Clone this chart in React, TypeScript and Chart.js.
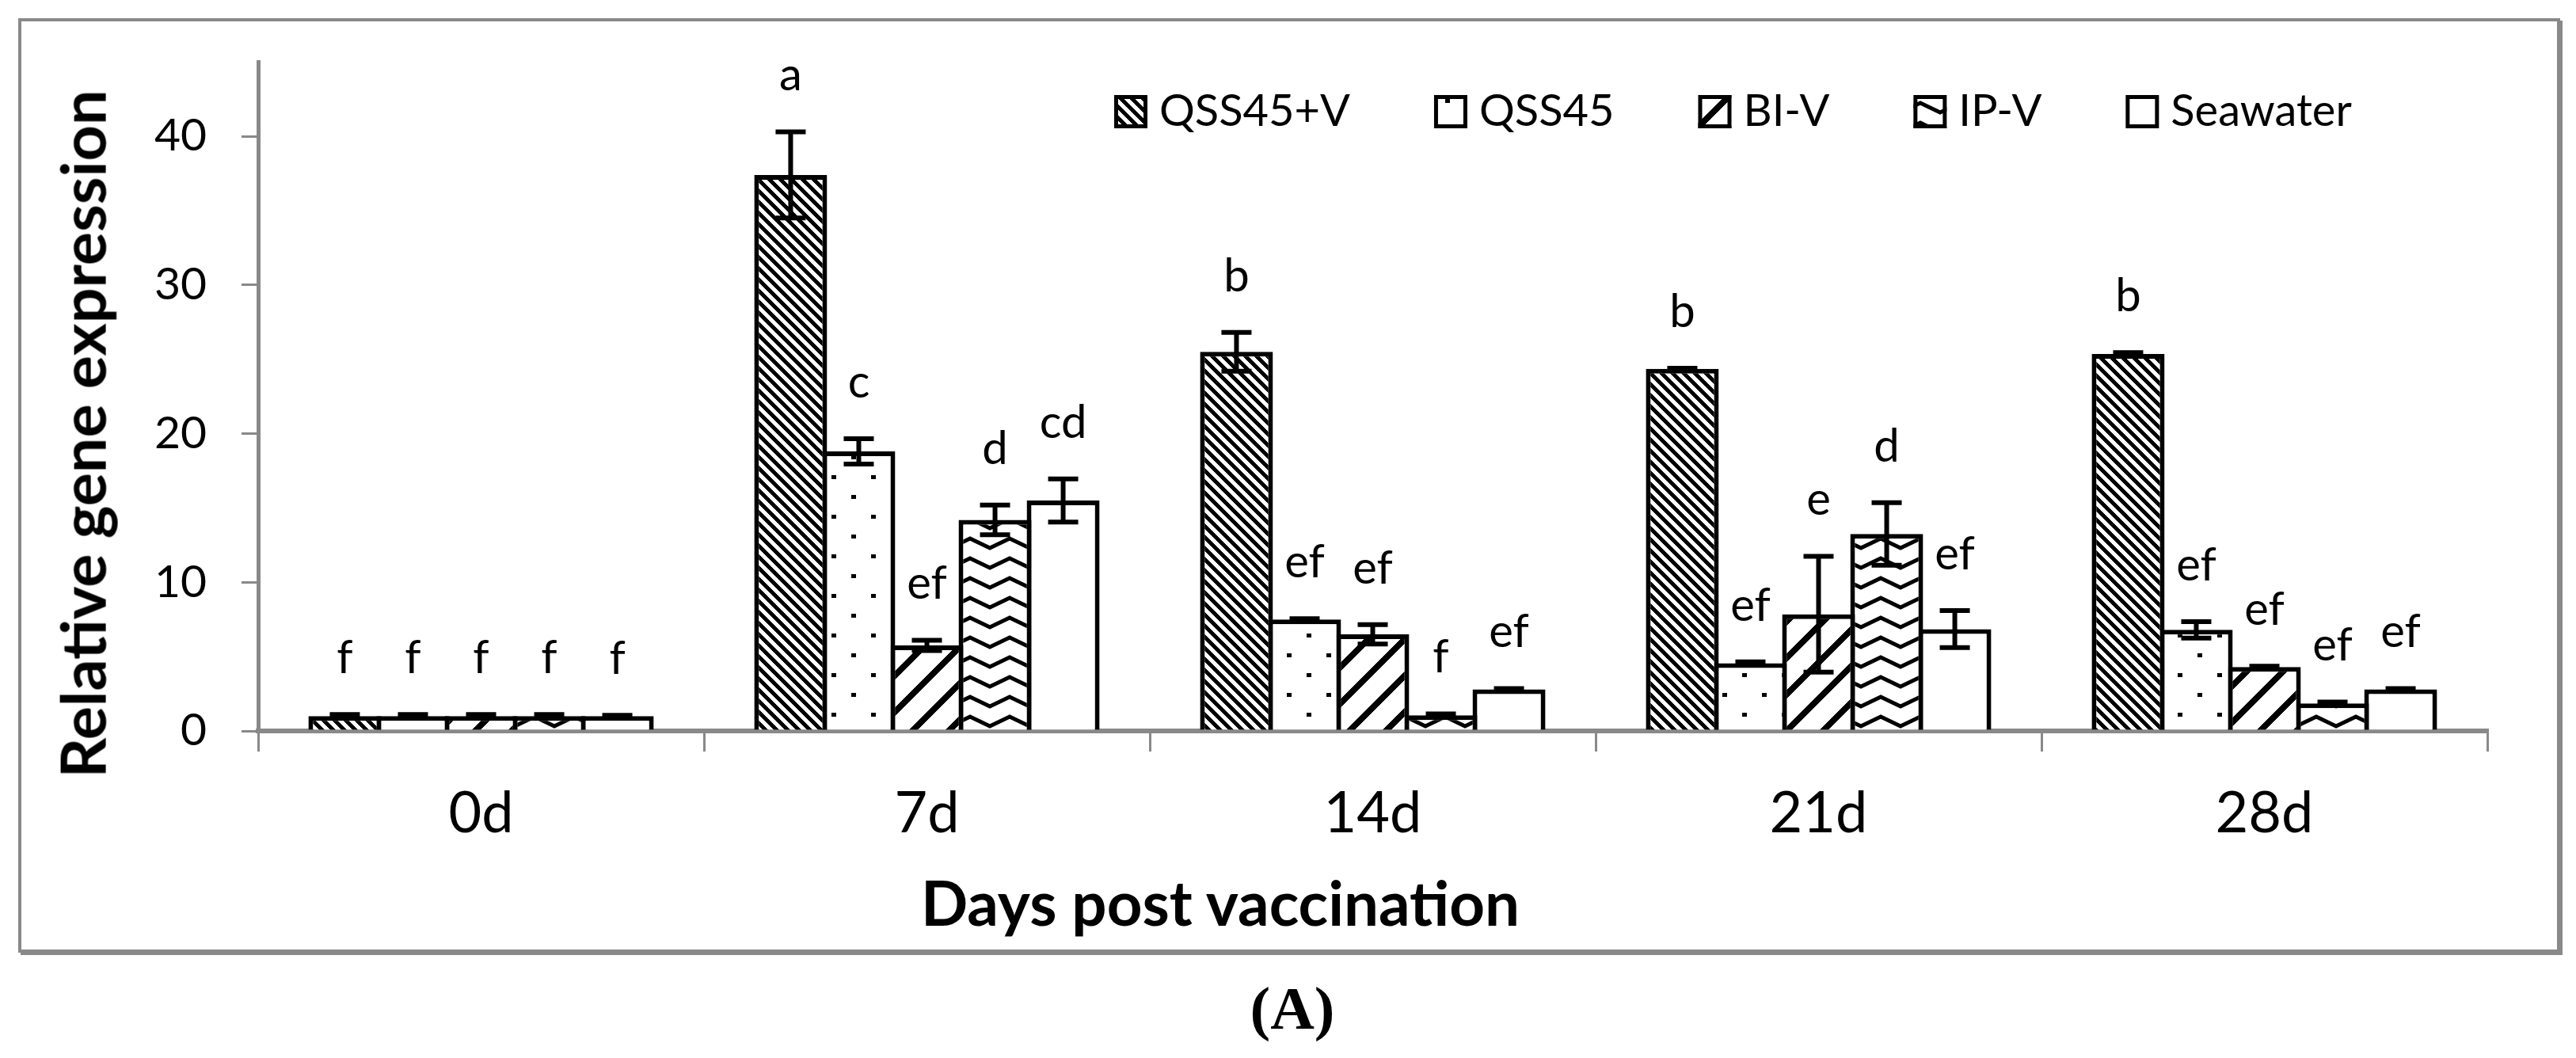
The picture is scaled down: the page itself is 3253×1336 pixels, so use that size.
import React, { useEffect, useRef } from 'react';
import { Chart, registerables } from 'chart.js';

Chart.register(...registerables);

// ---------- data ----------
const days = ['0d', '7d', '14d', '21d', '28d'];
const seriesNames = ['QSS45+V', 'QSS45', 'BI-V', 'IP-V', 'Seawater'];

const qss45vValues = [1.0, 37.4, 25.5, 24.35, 25.35];
const qss45vErrors = [0.1, 2.9, 1.3, 0.05, 0.1];
const qss45vLetters = ['f', 'a', 'b', 'b', 'b'];

const qss45Values = [1.0, 18.8, 7.5, 4.55, 6.8];
const qss45Errors = [0.1, 0.85, 0.05, 0.1, 0.55];
const qss45Letters = ['f', 'c', 'ef', 'ef', 'ef'];

const biVValues = [1.0, 5.75, 6.5, 7.85, 4.3];
const biVErrors = [0.1, 0.35, 0.65, 3.9, 0.05];
const biVLetters = ['f', 'ef', 'ef', 'e', 'ef'];

const ipVValues = [1.0, 14.2, 1.05, 13.25, 1.85];
const ipVErrors = [0.1, 1.0, 0.1, 2.1, 0.1];
const ipVLetters = ['f', 'd', 'f', 'd', 'ef'];

const seawaterValues = [1.0, 15.5, 2.8, 6.85, 2.8];
const seawaterErrors = [0.05, 1.45, 0.05, 1.25, 0.05];
const seawaterLetters = ['f', 'cd', 'ef', 'ef', 'ef'];

const yTickStep = 10;
const yMax = 45;

const allValues = [qss45vValues, qss45Values, biVValues, ipVValues, seawaterValues];
const allErrors = [qss45vErrors, qss45Errors, biVErrors, ipVErrors, seawaterErrors];
const allLetters = [qss45vLetters, qss45Letters, biVLetters, ipVLetters, seawaterLetters];

// ---------- styles ----------
const GRAY = '#898989';
const FONT = 'Lato, "Open Sans", "DejaVu Sans", sans-serif';

function makeTile(w: number, h: number, draw: (g: CanvasRenderingContext2D) => void) {
  const c = document.createElement('canvas');
  c.width = w;
  c.height = h;
  const g = c.getContext('2d')!;
  g.fillStyle = '#fff';
  g.fillRect(0, 0, w, h);
  g.fillStyle = '#000';
  g.strokeStyle = '#000';
  draw(g);
  return c;
}

function buildPatterns(ctx: CanvasRenderingContext2D): (CanvasPattern | string)[] {
  // dense downward diagonal "\"
  const down = makeTile(14, 14, (g) => {
    for (let y = 0; y < 14; y++) {
      for (let k = 0; k < 7; k++) g.fillRect((y + k) % 14, y, 1, 1);
    }
  });
  // sparse dots
  const dots = makeTile(50, 50, (g) => {
    g.fillRect(0, 0, 6, 5);
    g.fillRect(25, 25, 6, 5);
  });
  // wide upward diagonal "/"
  const up = makeTile(46, 46, (g) => {
    for (let y = 0; y < 46; y++) {
      for (let k = 0; k < 11; k++) g.fillRect((45 - y + k) % 46, y, 1, 1);
    }
  });
  // wave / zigzag
  const wave = makeTile(50, 25, (g) => {
    g.lineWidth = 5;
    g.beginPath();
    g.moveTo(-25, 5);
    g.lineTo(0, 17);
    g.lineTo(25, 5);
    g.lineTo(50, 17);
    g.lineTo(75, 5);
    g.stroke();
  });
  return [
    ctx.createPattern(down, 'repeat')!,
    ctx.createPattern(dots, 'repeat')!,
    ctx.createPattern(up, 'repeat')!,
    ctx.createPattern(wave, 'repeat')!,
    '#ffffff',
  ];
}

const errorBarPlugin = {
  id: 'errorBarsAndLetters',
  afterDatasetsDraw(chart: any) {
    const ctx = chart.ctx as CanvasRenderingContext2D;
    const yScale = chart.scales.y;
    ctx.save();
    ctx.strokeStyle = '#000';
    ctx.lineWidth = 6;
    ctx.lineCap = 'butt';
    const capHalf = 19;
    chart.data.datasets.forEach((ds: any, i: number) => {
      const meta = chart.getDatasetMeta(i);
      meta.data.forEach((bar: any, j: number) => {
        const v = allValues[i][j];
        const e = allErrors[i][j];
        const x = bar.x;
        const yTop = yScale.getPixelForValue(v + e);
        const yBot = yScale.getPixelForValue(v - e);
        ctx.beginPath();
        ctx.moveTo(x, yTop);
        ctx.lineTo(x, yBot);
        ctx.moveTo(x - capHalf, yTop);
        ctx.lineTo(x + capHalf, yTop);
        ctx.moveTo(x - capHalf, yBot);
        ctx.lineTo(x + capHalf, yBot);
        ctx.stroke();
      });
    });
    // significance letters
    ctx.fillStyle = '#000';
    ctx.font = `58px ${FONT}`;
    ctx.textAlign = 'center';
    ctx.textBaseline = 'alphabetic';
    chart.data.datasets.forEach((ds: any, i: number) => {
      const meta = chart.getDatasetMeta(i);
      meta.data.forEach((bar: any, j: number) => {
        const top = yScale.getPixelForValue(allValues[i][j] + allErrors[i][j]);
        ctx.fillText(allLetters[i][j], bar.x, top - 52);
      });
    });
    ctx.restore();
  },
};

const legendPlugin = {
  id: 'insideLegend',
  afterDraw(chart: any) {
    const ctx = chart.ctx as CanvasRenderingContext2D;
    const box = 42;
    const gapText = 15;
    const gapItem = 106;
    const centerY = 141;
    let x = 1407;
    ctx.save();
    ctx.font = `56px ${FONT}`;
    ctx.textBaseline = 'middle';
    ctx.textAlign = 'left';
    chart.data.datasets.forEach((ds: any) => {
      ctx.fillStyle = ds.backgroundColor;
      ctx.fillRect(x, centerY - box / 2, box, box);
      ctx.strokeStyle = '#000';
      ctx.lineWidth = 5;
      ctx.strokeRect(x + 2.5, centerY - box / 2 + 2.5, box - 5, box - 5);
      ctx.fillStyle = '#000';
      const tx = x + box + gapText;
      ctx.fillText(ds.label, tx, centerY);
      x = tx + ctx.measureText(ds.label).width + gapItem;
    });
    ctx.restore();
  },
};

export default function App() {
  const ref = useRef<HTMLCanvasElement>(null);

  useEffect(() => {
    document.body.style.margin = '0';
    const canvas = ref.current!;
    const ctx = canvas.getContext('2d')!;
    const patterns = buildPatterns(ctx);

    const chart = new Chart(canvas, {
      type: 'bar',
      data: {
        labels: days,
        datasets: seriesNames.map((name, i) => ({
          label: name,
          data: allValues[i],
          backgroundColor: patterns[i] as any,
          borderColor: '#000',
          borderWidth: 6,
          categoryPercentage: 0.764,
          barPercentage: 1.07,
        })),
      },
      options: {
        animation: false,
        responsive: false,
        devicePixelRatio: 1,
        events: [],
        layout: { padding: { left: 0, top: 64, right: 112, bottom: 0 } },
        plugins: {
          legend: { display: false },
          tooltip: { enabled: false },
          title: { display: false },
        },
        scales: {
          x: {
            offset: true,
            grid: {
              offset: true,
              drawOnChartArea: false,
              drawTicks: true,
              tickLength: 26,
              color: GRAY,
              lineWidth: 3,
            },
            border: { display: true, color: GRAY, width: 6 },
            ticks: {
              font: { family: FONT, size: 72 },
              color: '#000',
              padding: 36,
              maxRotation: 0,
              autoSkip: false,
            },
            afterFit: (s: any) => {
              s.height = 413;
            },
          },
          y: {
            min: 0,
            max: yMax,
            grid: {
              drawOnChartArea: false,
              drawTicks: true,
              tickLength: 21,
              color: GRAY,
              lineWidth: 3,
            },
            border: { display: true, color: GRAY, width: 5 },
            ticks: {
              stepSize: yTickStep,
              includeBounds: false,
              font: { family: FONT, size: 57 },
              color: '#000',
              padding: 44,
            },
            afterFit: (s: any) => {
              s.width = 326;
            },
          },
        },
      } as any,
      plugins: [errorBarPlugin, legendPlugin],
    });
    return () => chart.destroy();
  }, []);

  return (
    <div
      style={{
        position: 'absolute',
        left: 0,
        top: 0,
        width: 3253,
        height: 1336,
        background: '#fff',
        overflow: 'hidden',
      }}
    >
      <div
        style={{
          position: 'absolute',
          left: 23,
          top: 23,
          width: 3210,
          height: 1180,
          boxSizing: 'border-box',
          border: `4px solid ${GRAY}`,
          boxShadow: `3px 3px 0 ${GRAY}`,
        }}
      />
      <canvas
        ref={ref}
        width={3253}
        height={1336}
        style={{ position: 'absolute', left: 0, top: 0, width: 3253, height: 1336, display: 'block' }}
      />
      <div
        style={{
          position: 'absolute',
          left: 104,
          top: 548,
          transform: 'translate(-50%, -50%) rotate(-90deg)',
          font: `bold 79px ${FONT}`,
          whiteSpace: 'nowrap',
          color: '#000',
          lineHeight: 1.2,
        }}
      >
        Relative gene expression
      </div>
      <div
        style={{
          position: 'absolute',
          left: 1541,
          top: 1140,
          transform: 'translate(-50%, -50%)',
          font: `bold 78px ${FONT}`,
          whiteSpace: 'nowrap',
          color: '#000',
          lineHeight: 1.2,
        }}
      >
        Days post vaccination
      </div>
      <div
        style={{
          position: 'absolute',
          left: 1632,
          top: 1273,
          transform: 'translate(-50%, -50%)',
          font: 'bold 77px "Liberation Serif", "DejaVu Serif", serif',
          whiteSpace: 'nowrap',
          color: '#000',
        }}
      >
        (A)
      </div>
    </div>
  );
}
